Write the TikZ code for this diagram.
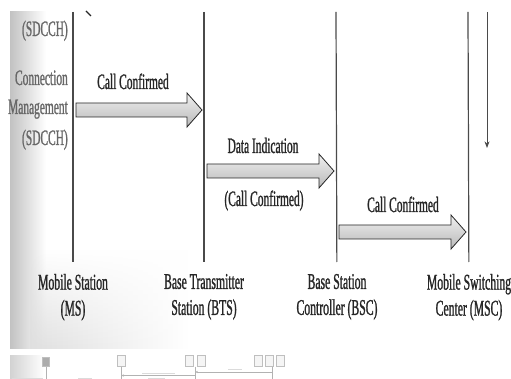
\documentclass[tikz,border=0pt]{standalone}
\usepackage{fontspec}
\setmainfont{Liberation Serif}[FakeStretch=0.52, FakeBold=1]
\usetikzlibrary{
    arrows.meta,
    calc,
    fadings,
    positioning
}
\definecolor{ink}{HTML}{262626}
\definecolor{rule}{HTML}{4A4A4A}
\tikzset{
    every picture/.style = {
        > = Stealth,
        x = 1pt,
        y = -1pt
    },
    lifeline/.style = {
        draw = rule,
        line width = 1.2pt
    },
    station/.style = {
        font = \fontsize{22.5}{26}\selectfont,
        text = ink,
        align = center,
        inner sep = 0pt,
        outer ysep = 12pt,
        anchor = north
    },
    msg/.style = {
        font = \fontsize{22}{24}\selectfont,
        text = ink,
        inner sep = 0pt,
        anchor = base
    },
    side/.style = {
        font = \fontsize{22}{30}\selectfont,
        text = ink!70,
        inner sep = 0pt,
        anchor = base east
    },
    blockarrow/.style = {
        draw = ink,
        line width = 0.8pt,
        line join = miter,
        top color = gray!12,
        bottom color = gray!55
    },
    thumb/.style = {
        draw = gray!50,
        fill = gray!8,
        line width = 0.4pt,
        minimum width = 8pt,
        minimum height = 11pt,
        inner sep = 0pt
    },
    thumbline/.style = {
        draw = gray!60,
        line width = 0.5pt
    },
    blur/.style = {
        draw = gray!28,
        line width = 1pt
    }
}

\begin{document}
\begin{tikzpicture}
    \fill[white] (0,0) rectangle (511,379);
    \useasboundingbox (0,0) rectangle (511,379);

    % page curl
    \shade[left color = gray!48, right color = white] (10,12) rectangle (46,348);
    \shade[left color = gray!25, right color = white, path fading = north] (30,250) rectangle (190,348);
    \shade[left color = gray!35, right color = white] (10,355) rectangle (44,379);

    % stations
    \node[station] (ms)  at (73,262)  {Mobile Station\\(MS)};
    \node[station] (bts) at (204,262) {Base Transmitter\\Station (BTS)};
    \node[station] (bsc) at (337,262) {Base Station\\Controller (BSC)};
    \node[station] (msc) at (469,262) {Mobile Switching\\Center (MSC)};

    \coordinate (ms-top)  at (73,12);
    \coordinate (bts-top) at (204,12);
    \coordinate (bsc-top) at (336,12);
    \coordinate (msc-top) at (468,12);

    \foreach \s in {ms, bts, bsc, msc}
        \draw[lifeline] (\s-top) -- (\s);

    % signal to the MSC
    \coordinate (sig-top) at (487,12);
    \coordinate (sig-end) at (487,148);
    \draw[->, rule, line width = 0.8pt] (sig-top) -- (sig-end);
    \coordinate (prev-a) at (86,11);
    \coordinate (prev-b) at (91,16);
    \draw[ink, line width = 1.2pt] (prev-a) -- (prev-b);

    % channel labels
    \node[side] (sdcch-a) at (68,36)  {(SDCCH)};
    \node[side] (conn)    at (68,85)  {Connection};
    \node[side] (mgmt)    at (68,114) {Management};
    \node[side] (sdcch-b) at (68,145) {(SDCCH)};

    % messages
    \foreach \from/\to/\y in {ms/bts/110, bts/bsc/171, bsc/msc/232} {
        \coordinate (s) at (\from-top |- 0,\y);
        \coordinate (e) at (\to-top |- 0,\y);
        \draw[blockarrow]
            ($(s) + (3,-7)$) -- ($(e) + (-17,-7)$) -- ++(0,-10)
            -- ($(e) + (-2,0)$)
            -- ($(e) + (-17,17)$) -- ++(0,-10)
            -- ($(s) + (3,7)$) -- cycle;
    }
    \node[msg] (m1)  at (133,89)  {Call Confirmed};
    \node[msg] (m2)  at (263,153) {Data Indication};
    \node[msg] (m2b) at (264,206) {(Call Confirmed)};
    \node[msg] (m3)  at (403,212) {Call Confirmed};

    % next figure (thumbnail)
    \node[thumb, fill = gray!65, minimum width = 7pt, minimum height = 9pt] (t-ms) at (46,362) {};
    \node[thumb] (t-bts)  at (121,361) {};
    \node[thumb] (t-bsc1) at (189,361) {};
    \node[thumb] (t-bsc2) at (201,361) {};
    \node[thumb] (t-msc1) at (258,361) {};
    \node[thumb] (t-msc2) at (269,361) {};
    \node[thumb] (t-msc3) at (280,361) {};
    \coordinate (t-ms-end)  at (46,379);
    \coordinate (t-bts-end) at (121,379);
    \coordinate (t-bsc-end) at (195,379);
    \coordinate (t-msc-end) at (272,379);
    \draw[thumbline] (t-ms) -- (t-ms-end);
    \draw[thumbline] (t-bts) -- (t-bts-end);
    \draw[thumbline] (t-bsc-end |- t-bsc1.south) -- (t-bsc-end);
    \draw[thumbline] (t-msc-end |- t-msc2.south) -- (t-msc-end);
    \draw[thumbline, -{Stealth[length = 3pt]}] (t-msc-end |- 0,372) -- (t-bsc-end |- 0,372);
    \draw[thumbline, -{Stealth[length = 3pt]}] (t-bsc-end |- 0,375.5) -- (t-bts-end |- 0,375.5);
    \draw[blur] (228,369) -- (242,369);
    \draw[blur] (142,373) -- (175,373);
    \draw[blur] (148,378.5) -- (165,378.5);
    \draw[blur] (12,378.5) -- (43,378.5);
    \draw[blur] (78,378.5) -- (92,378.5);
\end{tikzpicture}
\end{document}
